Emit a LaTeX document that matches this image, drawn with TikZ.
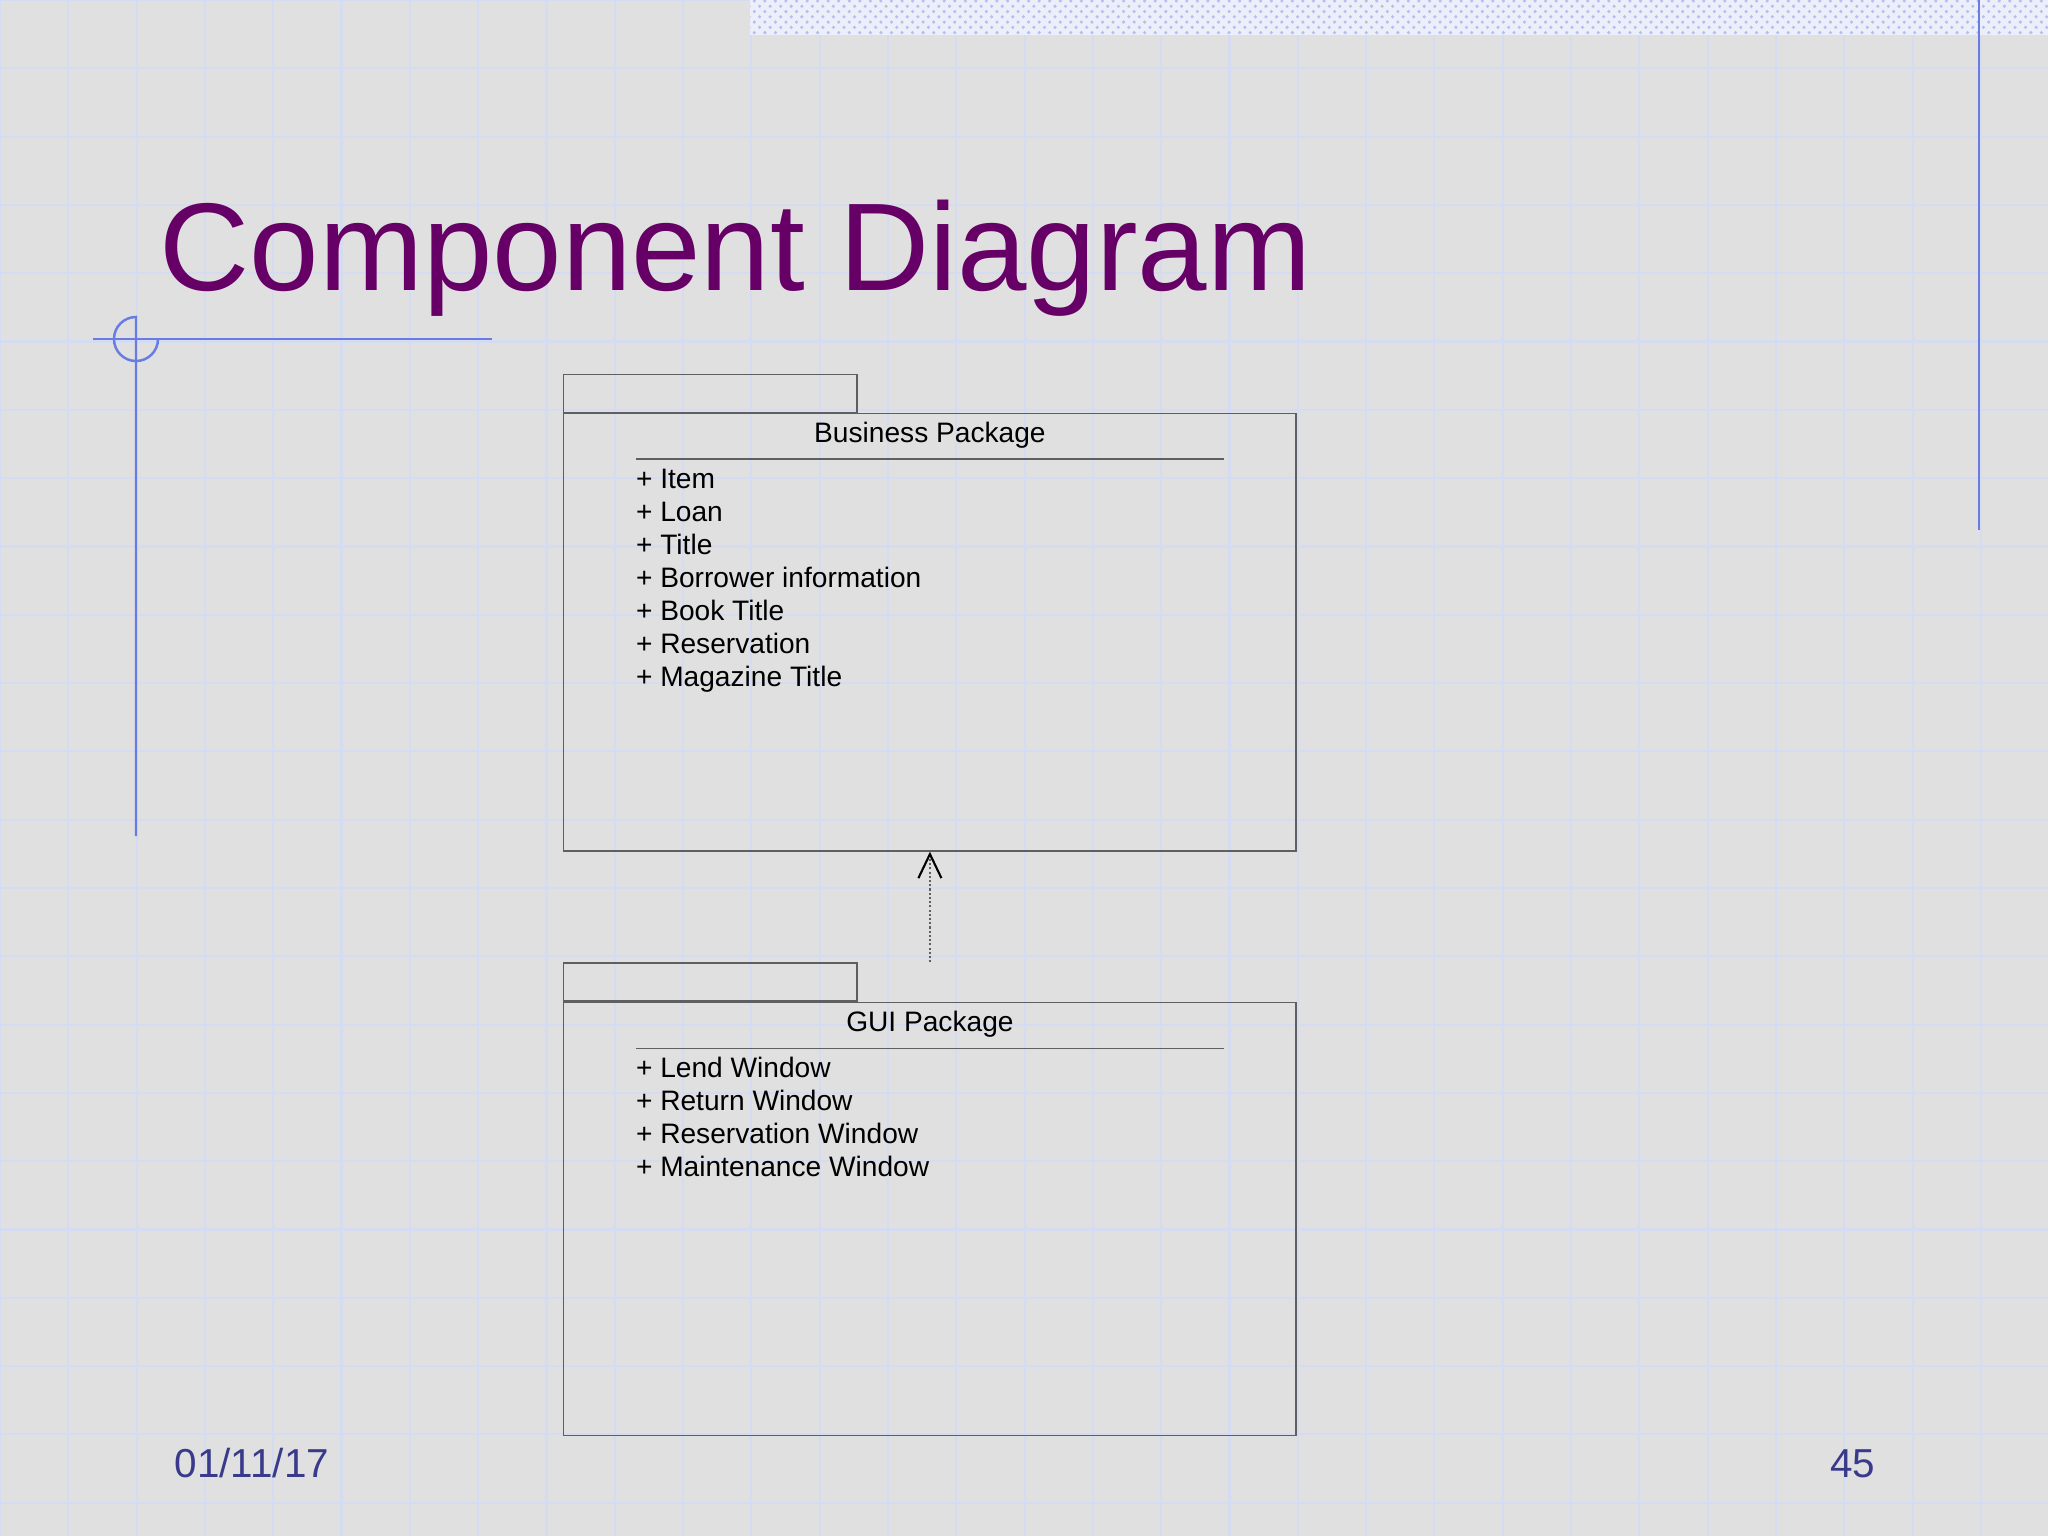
\documentclass[tikz,border=0pt]{standalone}
\usepackage{fontspec}
\setmainfont{Liberation Sans}
\usetikzlibrary{arrows.meta,positioning,patterns}

\definecolor{slidebg}{RGB}{224,224,224}
\definecolor{gridblue}{RGB}{213,220,242}
\definecolor{accent}{RGB}{104,124,228}
\definecolor{titlecol}{RGB}{102,0,102}
\definecolor{footcol}{RGB}{58,58,140}
\definecolor{pkgline}{RGB}{95,95,95}
\definecolor{stripbg}{RGB}{236,239,250}
\definecolor{stripdot}{RGB}{180,192,238}

\begin{document}
\begin{tikzpicture}[x=0.01cm, y=-0.01cm, node distance = 0mm and 5mm,
    pkgbody/.style={rectangle,draw=pkgline,line width=0.4pt,inner sep=0pt,minimum width=7.32cm},
    pkgtab/.style={rectangle,draw=pkgline,line width=0.4pt,inner sep=0pt,minimum width=2.93cm,minimum height=0.38cm},
    pkgname/.style={font=\fontsize{8}{9.5}\selectfont,inner sep=0pt},
    member/.style={font=\fontsize{8}{9.5}\selectfont,inner sep=0pt,outer sep=0pt,text height=0.25cm,text depth=0.08cm},
    nextmember/.style={below=of #1.south west,anchor=north west},
    dep/.style={pkgline,line width=0.4pt,dash pattern=on 0.6pt off 0.6pt,-{Straight Barb[length=0.24cm,width=0.23cm,line width=0.6pt,color=black]}},
    deco/.style={accent,line width=0.7pt},
    foot/.style={font=\fontsize{11.5}{13}\selectfont,text=footcol,inner sep=0pt},
   ]

    % slide background
    \useasboundingbox (0,0) rectangle (2048,1536);
    \fill[slidebg] (0,0) rectangle (2048,1536);
    \draw[gridblue, line width=0.6pt, step=0.682667cm] (0,1536) grid (2048,0);
    \fill[stripbg] (750,0) rectangle (2048,35);
    \fill[pattern=crosshatch dots, pattern color=stripdot] (750,0) rectangle (2048,35);
    \draw[deco] (1979,0) -- (1979,530);
    \draw[deco] (93,339) -- (492,339);
    \draw[deco] (136,836) -- (136,317) arc[start angle=90, end angle=360, radius=0.22cm];

    \node (title) [anchor=base west, inner sep=0pt, text=titlecol, font=\fontsize{35.5}{40}\selectfont] at (159,290) {Component Diagram};

    % business package
    \node (bp)    [pkgbody, minimum height=4.37cm, anchor=north west] at (563,413) {};
    \node (bptab) [pkgtab, above right=0mm of bp.north west] {};
    \node (bpname) [pkgname, anchor=base, yshift=-0.29cm] at (bp.north) {Business Package};
    \draw[pkgline, line width=0.4pt] ([xshift=0.73cm,yshift=-0.46cm]bp.north west) -- ([xshift=-0.73cm,yshift=-0.46cm]bp.north east);
    \node (bp1) [member, anchor=north west] at ([xshift=0.73cm,yshift=-0.50cm]bp.north west) {+ Item};
    \node (bp2) [member, nextmember=bp1] {+ Loan};
    \node (bp3) [member, nextmember=bp2] {+ Title};
    \node (bp4) [member, nextmember=bp3] {+ Borrower information};
    \node (bp5) [member, nextmember=bp4] {+ Book Title};
    \node (bp6) [member, nextmember=bp5] {+ Reservation};
    \node (bp7) [member, nextmember=bp6] {+ Magazine Title};

    % gui package
    \node (gp)    [pkgbody, minimum height=4.33cm, below=1.5cm of bp] {};
    \node (gptab) [pkgtab, above right=0mm of gp.north west] {};
    \node (gpname) [pkgname, anchor=base, yshift=-0.30cm] at (gp.north) {GUI Package};
    \draw[pkgline, line width=0.4pt] ([xshift=0.73cm,yshift=-0.47cm]gp.north west) -- ([xshift=-0.73cm,yshift=-0.47cm]gp.north east);
    \node (gp1) [member, anchor=north west] at ([xshift=0.73cm,yshift=-0.51cm]gp.north west) {+ Lend Window};
    \node (gp2) [member, nextmember=gp1] {+ Return Window};
    \node (gp3) [member, nextmember=gp2] {+ Reservation Window};
    \node (gp4) [member, nextmember=gp3] {+ Maintenance Window};

    \draw[dep] (gptab.north -| gp.north) -- (bp.south);

    \node (date)  [foot, anchor=base west] at (174,1477) {01/11/17};
    \node (pgnum) [foot, anchor=base east] at (1876,1477) {45};
  \end{tikzpicture}
\end{document}
